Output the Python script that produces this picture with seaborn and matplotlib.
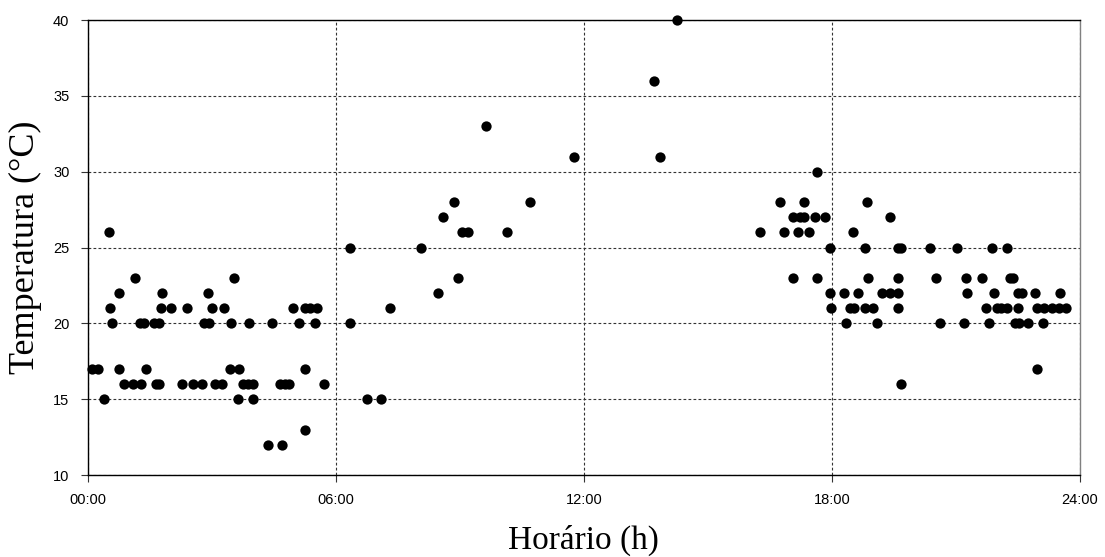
#%% import libraries
import pandas as pd
import seaborn as sns
import matplotlib
matplotlib.use('Agg')
import matplotlib.pyplot as plt

#%% data (hour of day, temperature in degrees C)
hours_night = [0.10, 0.26, 0.77, 1.41, 3.45, 3.66, 5.27,
               0.39, 3.64, 3.99,
               0.51,
               0.54, 1.78, 2.01, 2.40, 3.00, 3.29, 4.96, 5.27, 5.39, 5.54,
               0.58, 1.26, 1.37, 1.61, 1.72, 2.82, 2.93, 3.47, 3.91, 4.47, 5.11, 5.51,
               0.75, 1.80, 2.92,
               1.15, 3.54,
               0.89, 1.11, 1.29, 1.65, 1.74, 2.29, 2.56, 2.77, 3.09, 3.25, 3.75, 3.88,
               4.01, 4.66, 4.77, 4.88, 5.71,
               5.26,
               4.37, 4.70]
temps_night = [17, 17, 17, 17, 17, 17, 17,
               15, 15, 15,
               26,
               21, 21, 21, 21, 21, 21, 21, 21, 21, 21,
               20, 20, 20, 20, 20, 20, 20, 20, 20, 20, 20, 20,
               22, 22, 22,
               23, 23,
               16, 16, 16, 16, 16, 16, 16, 16, 16, 16, 16, 16,
               16, 16, 16, 16, 16,
               13,
               12, 12]

hours_day = [6.35, 8.06, 6.35, 6.76, 7.10, 7.32, 8.48, 8.59, 8.86, 10.70,
             8.97, 9.06, 9.19, 10.14, 9.64, 11.77, 13.85, 13.69, 14.26]
temps_day = [25, 25, 20, 15, 15, 21, 22, 27, 28, 28,
             23, 26, 26, 26, 33, 31, 31, 36, 40]

hours_evening = [16.27, 16.84, 17.18, 17.44, 18.51,
                 16.75, 17.33, 18.84,
                 17.05, 17.24, 17.33, 17.60, 17.84, 19.40,
                 17.64,
                 17.96, 18.79, 19.59, 19.67,
                 17.07, 17.64, 18.88, 19.61,
                 17.96, 18.29, 18.62, 19.21, 19.41, 19.60,
                 17.98, 18.44, 18.54, 18.80, 19.00, 19.61,
                 18.33, 19.09,
                 19.67]
temps_evening = [26, 26, 26, 26, 26,
                 28, 28, 28,
                 27, 27, 27, 27, 27, 27,
                 30,
                 25, 25, 25, 25,
                 23, 23, 23, 23,
                 22, 22, 22, 22, 22, 22,
                 21, 21, 21, 21, 21, 21,
                 20, 20,
                 16]

hours_late = [20.37, 21.03, 21.88, 22.23,
              20.52, 21.25, 21.63, 22.31, 22.38,
              21.26, 21.91, 22.50, 22.60, 22.90, 23.51,
              21.73, 21.99, 22.10, 22.23, 22.51, 22.96, 23.13, 23.32, 23.49, 23.66,
              20.62, 21.20, 21.81, 22.42, 22.53, 22.75, 23.10,
              22.96]
temps_late = [25, 25, 25, 25,
              23, 23, 23, 23, 23,
              22, 22, 22, 22, 22, 22,
              21, 21, 21, 21, 21, 21, 21, 21, 21, 21,
              20, 20, 20, 20, 20, 20, 20,
              17]

x_ticks = [0, 6, 12, 18, 24]
x_tick_labels = ['00:00', '06:00', '12:00', '18:00', '24:00']
y_ticks = [10, 15, 20, 25, 30, 35, 40]

df = pd.DataFrame({
    'hora': hours_night + hours_day + hours_evening + hours_late,
    'temp': temps_night + temps_day + temps_evening + temps_late,
})

#%% plot setup
sns.set_style('white')
plt.rcParams['font.family'] = ['Liberation Sans', 'DejaVu Sans']
plt.rcParams['text.color'] = 'black'
plt.rcParams['axes.labelcolor'] = 'black'
plt.rcParams['xtick.color'] = 'black'
plt.rcParams['ytick.color'] = 'black'

fig = plt.figure(figsize=(11.05, 5.57), dpi=100)
ax = fig.add_axes([0.0792, 0.147, 0.8982, 0.817])

sns.scatterplot(data=df, x='hora', y='temp', ax=ax, color='black',
                s=55, edgecolor=None, linewidth=0, zorder=3, clip_on=False)

ax.set_xlim(0, 24)
ax.set_ylim(10, 40)
ax.set_xticks(x_ticks)
ax.set_xticklabels(x_tick_labels)
ax.set_yticks(y_ticks)

ax.grid(True, color='#333333', linestyle=(0, (2.5, 2.0)), linewidth=0.8)
ax.set_axisbelow(True)

for side in ['left', 'bottom', 'top']:
    ax.spines[side].set_color('black')
    ax.spines[side].set_linewidth(1.0)
ax.spines['right'].set_color('#808080')
ax.spines['right'].set_linewidth(1.0)

ax.tick_params(axis='both', direction='out', length=5, width=0.8,
               color='#333333', labelcolor='black', labelsize=10.5, pad=8,
               left=True, bottom=True)

ax.set_xlabel('Horário (h)', family='Liberation Serif', fontsize=24,
              labelpad=13, color='black')
ax.set_ylabel('Temperatura (°C)', family='Liberation Serif', fontsize=26,
              labelpad=8, color='black')

plt.savefig('out.png', dpi=100)
